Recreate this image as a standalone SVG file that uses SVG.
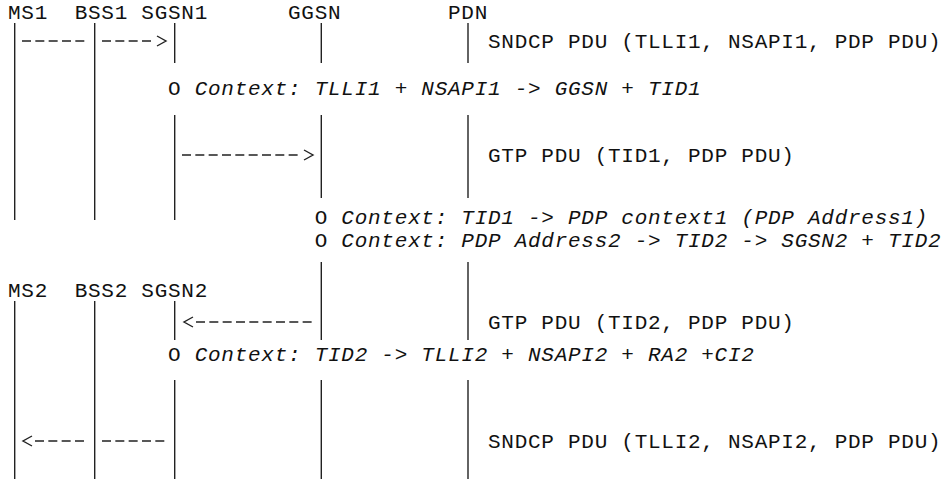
<svg xmlns="http://www.w3.org/2000/svg" width="944" height="479" viewBox="0 0 944 479">
<style>
text{font-family:"Liberation Mono","DejaVu Sans Mono",monospace;font-size:21px;letter-spacing:0.73px;fill:#111;white-space:pre}
.i{font-style:italic}
.ll{stroke:#222;stroke-width:1.4;fill:none}
.msg{stroke:#222;stroke-width:1.4;fill:none;stroke-dasharray:9 4.33}
.hd{stroke:#222;stroke-width:1.4;fill:none}
</style>
<rect width="944" height="479" fill="#fff"/>
<g id="ms1"><text x="8" y="19">MS1</text><line class="ll" x1="14.7" y1="23" x2="14.7" y2="220"/></g>
<g id="bss1"><text x="74.7" y="19">BSS1</text><line class="ll" x1="94.7" y1="23" x2="94.7" y2="220"/></g>
<g id="sgsn1"><text x="141.3" y="19">SGSN1</text><line class="ll" x1="174.7" y1="23" x2="174.7" y2="63"/><line class="ll" x1="174.7" y1="115" x2="174.7" y2="220"/></g>
<g id="ggsn"><text x="288" y="19">GGSN</text><line class="ll" x1="321.3" y1="23" x2="321.3" y2="63"/><line class="ll" x1="321.3" y1="115" x2="321.3" y2="198"/><line class="ll" x1="321.3" y1="262" x2="321.3" y2="340"/><line class="ll" x1="321.3" y1="380" x2="321.3" y2="479"/></g>
<g id="pdn"><text x="448" y="19">PDN</text><line class="ll" x1="468" y1="23" x2="468" y2="63"/><line class="ll" x1="468" y1="115" x2="468" y2="198"/><line class="ll" x1="468" y1="262" x2="468" y2="340"/><line class="ll" x1="468" y1="380" x2="468" y2="479"/></g>
<g id="ms2"><text x="8" y="297">MS2</text><line class="ll" x1="14.7" y1="301" x2="14.7" y2="479"/></g>
<g id="bss2"><text x="74.7" y="297">BSS2</text><line class="ll" x1="94.7" y1="301" x2="94.7" y2="479"/></g>
<g id="sgsn2"><text x="141.3" y="297">SGSN2</text><line class="ll" x1="174.7" y1="301" x2="174.7" y2="340"/><line class="ll" x1="174.7" y1="380" x2="174.7" y2="479"/></g>
<g id="connectors">
<line class="msg" x1="22" y1="41" x2="88" y2="41"/>
<line class="msg" x1="102" y1="41" x2="155" y2="41"/>
<polyline class="hd" points="157,36 166,41 157,46"/>
<line class="msg" x1="182" y1="155" x2="302" y2="155"/>
<polyline class="hd" points="304,150 313,155 304,160"/>
<line class="msg" x1="196" y1="322" x2="316" y2="322"/>
<polyline class="hd" points="193,317 184,322 193,327"/>
<line class="msg" x1="35" y1="441" x2="88" y2="441"/>
<polyline class="hd" points="32,436 23,441 32,446"/>
<line class="msg" x1="102" y1="441" x2="168" y2="441"/>
</g>
<g id="labels">
<text x="488" y="48">SNDCP PDU (TLLI1, NSAPI1, PDP PDU)</text>
<text x="168" y="95">O <tspan class="i">Context: TLLI1 + NSAPI1 -&gt; GGSN + TID1</tspan></text>
<text x="488" y="162">GTP PDU (TID1, PDP PDU)</text>
<text x="314.7" y="224">O <tspan class="i">Context: TID1 -&gt; PDP context1 (PDP Address1)</tspan></text>
<text x="314.7" y="247">O <tspan class="i">Context: PDP Address2 -&gt; TID2 -&gt; SGSN2 + TID2</tspan></text>
<text x="488" y="329">GTP PDU (TID2, PDP PDU)</text>
<text x="168" y="361">O <tspan class="i">Context: TID2 -&gt; TLLI2 + NSAPI2 + RA2 +CI2</tspan></text>
<text x="488" y="448">SNDCP PDU (TLLI2, NSAPI2, PDP PDU)</text>
</g>
</svg>
